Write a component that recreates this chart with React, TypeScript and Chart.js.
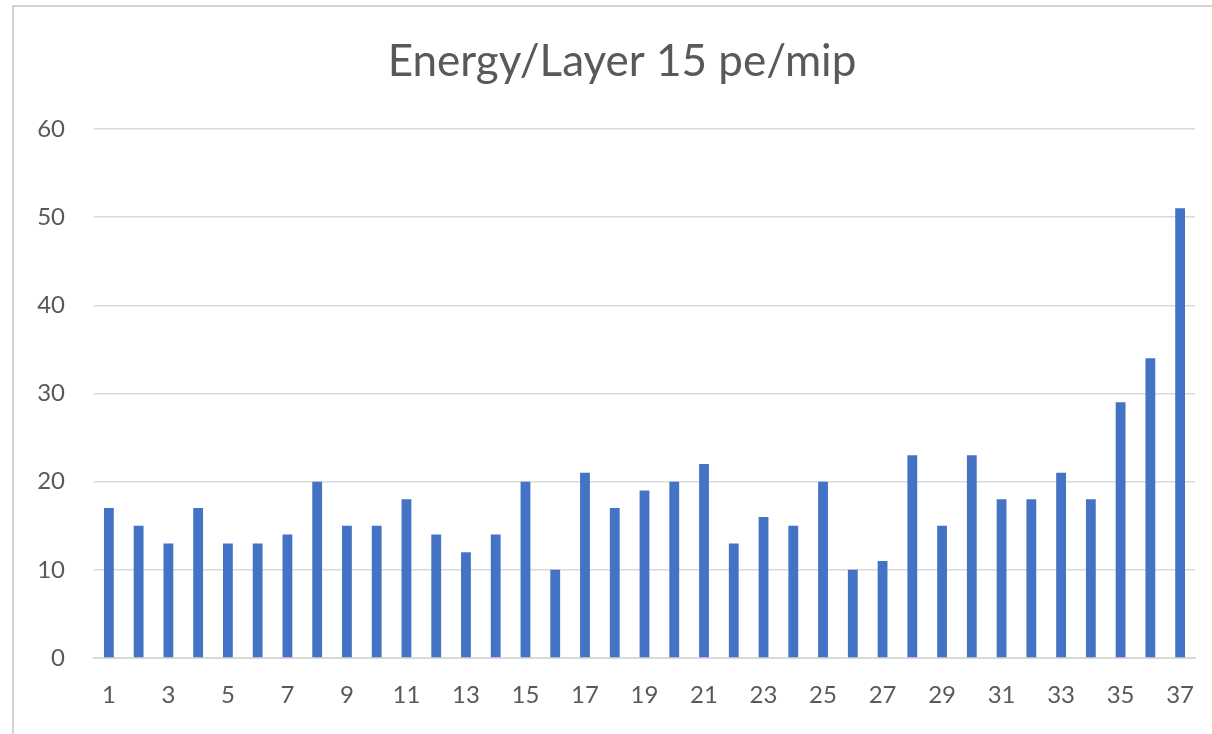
import React, { useEffect, useRef } from "react";
import { Chart, registerables } from "chart.js";

Chart.register(...registerables);

// Layer numbers along the x axis
const layers: string[] = Array.from({ length: 37 }, (_, i) => String(i + 1));

// Energy deposited per layer (pe/mip)
const energyValues: number[] = [
  17, 15, 13, 17, 13, 13, 14, 20, 15, 15,
  18, 14, 12, 14, 20, 10, 21, 17, 19, 20,
  22, 13, 16, 15, 20, 10, 11, 23, 15, 23,
  18, 18, 21, 18, 29, 34, 51,
];

const titleText = "Energy/Layer 15 pe/mip";
const yMin = 0;
const yMax = 60;
const yStep = 10;

const barColor = "#4472C4";
const gridColor = "#d9d9d9";
const textColor = "#595959";
const fontFamily = "Lato, 'Open Sans', sans-serif";

// Title centred on the framed chart box (which extends past the canvas on the right)
const frameTitle = {
  id: "frameTitle",
  afterDraw(chart: any) {
    const ctx = chart.ctx;
    ctx.save();
    ctx.fillStyle = textColor;
    ctx.font = `normal 44px ${fontFamily}`;
    ctx.textAlign = "center";
    ctx.textBaseline = "middle";
    ctx.fillText(titleText, chart.width / 2 + 16, 62);
    ctx.restore();
  },
};

export default function App() {
  const canvasRef = useRef<HTMLCanvasElement | null>(null);

  useEffect(() => {
    if (!canvasRef.current) return;
    const chart = new Chart(canvasRef.current, {
      type: "bar",
      data: {
        labels: layers,
        datasets: [
          {
            data: energyValues,
            backgroundColor: barColor,
            borderWidth: 0,
            barPercentage: 0.33,
            categoryPercentage: 1,
          },
        ],
      },
      plugins: [frameTitle],
      options: {
        animation: false,
        responsive: false,
        maintainAspectRatio: false,
        layout: { padding: { left: 0, right: 17, top: 129, bottom: 0 } },
        plugins: {
          legend: { display: false },
          tooltip: { enabled: false },
          title: { display: false },
        },
        scales: {
          x: {
            grid: { display: false, drawTicks: false },
            border: { display: true, color: gridColor, width: 2 },
            ticks: {
              color: textColor,
              font: { family: fontFamily, size: 24 },
              autoSkip: false,
              maxRotation: 0,
              minRotation: 0,
              padding: 23,
              callback: (_v: any, i: number) => (i % 2 === 0 ? layers[i] : ""),
            },
            afterFit: (scale: any) => {
              scale.height = 76;
              scale.paddingLeft = 0;
              scale.paddingRight = 0;
            },
          },
          y: {
            min: yMin,
            max: yMax,
            grid: { color: gridColor, lineWidth: 1.5, drawTicks: false },
            border: { display: false },
            ticks: {
              stepSize: yStep,
              color: textColor,
              font: { family: fontFamily, size: 24 },
              padding: 29,
            },
            afterFit: (scale: any) => {
              scale.width = 94;
            },
          },
        },
      },
    });
    return () => chart.destroy();
  }, []);

  return (
    <div
      style={{
        position: "fixed",
        left: 0,
        top: 0,
        width: 1212,
        height: 734,
        background: "#ffffff",
      }}
    >
      <div
        style={{
          position: "absolute",
          left: 12,
          top: 5,
          right: -4,
          bottom: -4,
          borderLeft: "2px solid #d4d4d4",
          borderTop: "2px solid #d4d4d4",
        }}
      />
      <canvas
        ref={canvasRef}
        width={1212}
        height={734}
        style={{ position: "absolute", left: 0, top: 0, display: "block" }}
      />
    </div>
  );
}
